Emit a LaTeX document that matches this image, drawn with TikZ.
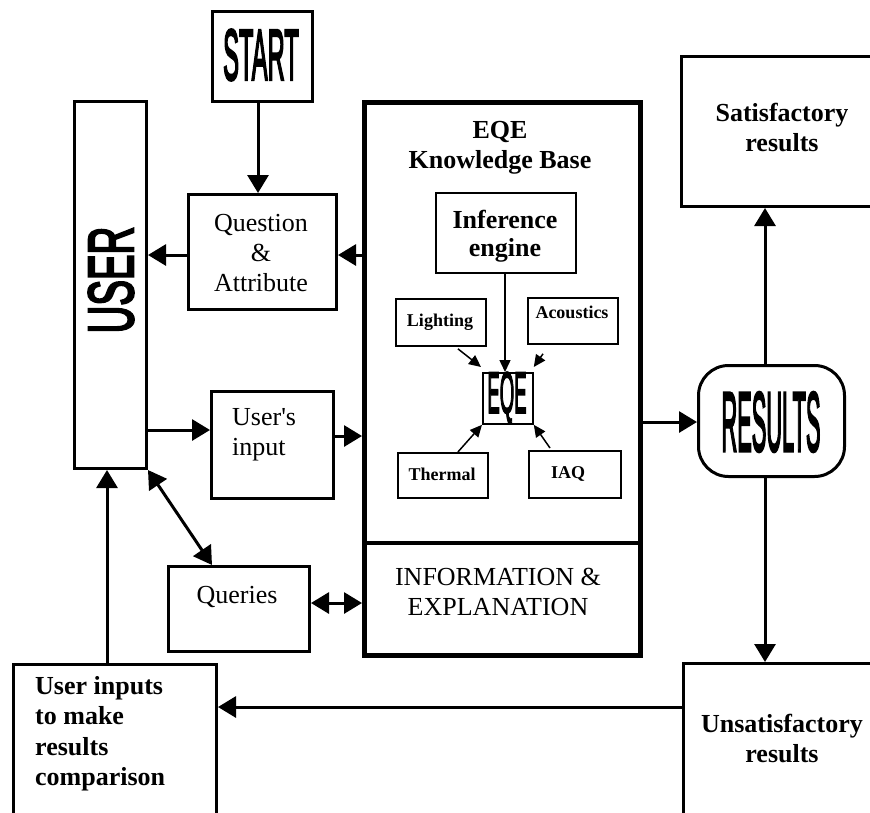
\documentclass[tikz,border=0pt]{standalone}
\usepackage{fontspec}
\setmainfont{Liberation Serif}
\newfontfamily\handfont{Liberation Sans}[FakeBold=4]
\usetikzlibrary{arrows.meta,calc}
\begin{document}
\begin{tikzpicture}[x=1pt,y=-1pt,
  box/.style={draw, line width=3pt, rectangle, inner sep=0pt, anchor=north west},
  kbbox/.style={draw, line width=4.5pt, rectangle, inner sep=0pt, anchor=north west},
  ibox/.style={draw, line width=1.8pt, rectangle, inner sep=0pt, anchor=north west},
  arr/.style={line width=3pt, -{Triangle[length=18pt,width=21pt]}},
  darr/.style={line width=3pt, {Triangle[length=18pt,width=21pt]}-{Triangle[length=18pt,width=21pt]}},
  iarr/.style={line width=1.5pt, -{Triangle[length=12pt,width=11pt]}},
  txt/.style={font=\fontsize{26}{30}\selectfont, align=center, inner sep=0pt},
  btxt/.style={font=\fontsize{26}{30}\selectfont\bfseries, align=center, inner sep=0pt},
  stxt/.style={font=\fontsize{18}{20}\selectfont\bfseries, inner sep=0pt},
  hand/.style={font=\handfont, inner sep=0pt}
]
\useasboundingbox (0,0) rectangle (870,812);

% boxes
\node[box, minimum width=100, minimum height=90] (start) at (211,10) {};
\node[hand, font=\handfont\fontsize{72}{72}\selectfont] (start-t) at (261,55) {\scalebox{0.33}[1]{START}};

\node[box, minimum width=72, minimum height=367] (user) at (73,100) {};
\node[hand, font=\handfont\fontsize{64}{64}\selectfont, rotate=90] (user-t) at (111,280) {\scalebox{0.6}[1]{USER}};

\node[box, minimum width=148, minimum height=115] (qa) at (187,193) {};
\node[txt] (qa-t) at (261,253) {Question\\\&\\Attribute};

\node[box, minimum width=122, minimum height=107] (ui) at (210,390) {};
\node[txt, align=left, anchor=west] (ui-t) at (232,435) {User\textquotesingle s\\input};

\node[box, minimum width=141, minimum height=85] (qu) at (167,565) {};
\node[txt] (qu-t) at (237,597) {Queries};

\node[kbbox, minimum width=276, minimum height=553] (kb) at (362,100) {};
\coordinate (divl) at (362,543);
\coordinate (divr) at (638,543);
\draw[line width=4pt] (divl) -- (divr);
\node[btxt] (kb-t) at (500,148) {EQE\\Knowledge Base};
\node[txt] (info-t) at (498,592) {INFORMATION \&\\EXPLANATION};

\node[ibox, minimum width=140, minimum height=80] (inf) at (435,192) {};
\node[btxt, font=\fontsize{26}{28}\selectfont\bfseries] (inf-t) at (505,236) {Inference\\engine};

\node[ibox, minimum width=90, minimum height=47] (light) at (395,298) {};
\node[stxt] (light-t) at (440,322) {Lighting};

\node[ibox, minimum width=90, minimum height=46] (acou) at (527,297) {};
\node[stxt] (acou-t) at (572,312) {Acoustics};

\node[ibox, minimum width=50, minimum height=51] (eqe) at (482,372) {};
\node[hand, font=\handfont\fontsize{58}{58}\selectfont] (eqe-t) at (507,398) {\scalebox{0.32}[1]{EQE}};

\node[ibox, minimum width=90, minimum height=45] (therm) at (397,452) {};
\node[stxt] (therm-t) at (442,474) {Thermal};

\node[ibox, minimum width=92, minimum height=47] (iaq) at (528,450) {};
\node[stxt] (iaq-t) at (568,474) {IAQ};

\node[box, minimum width=200, minimum height=150] (sat) at (680,55) {};
\node[btxt] (sat-t) at (782,127) {Satisfactory\\results};

\node[draw, line width=3pt, rounded corners=30pt, inner sep=0pt, anchor=north west, minimum width=146, minimum height=111] (res) at (697,364) {};
\node[hand, font=\handfont\fontsize{84}{84}\selectfont] (res-t) at (771,422) {\scalebox{0.26}[1]{RESULTS}};

\node[box, minimum width=200, minimum height=170] (unsat) at (682,662) {};
\node[btxt] (unsat-t) at (782,738) {Unsatisfactory\\results};

\node[box, minimum width=203, minimum height=170] (uin) at (12,663) {};
\node[btxt, align=left, anchor=north west, font=\fontsize{26}{30.5}\selectfont\bfseries] (uin-t) at (35,676) {User inputs\\to make\\results\\comparison};

% connectors
\draw[arr] (start.south -| 258,0) -- (qa.north -| 258,0);
\draw[arr] (kb.west |- 0,255) -- (qa.east |- 0,255);
\draw[arr] (qa.west |- 0,255) -- (user.east |- 0,255);
\draw[arr] (user.east |- 0,430) -- (ui.west |- 0,430);
\draw[arr] (ui.east |- 0,436) -- (kb.west |- 0,436);
\draw[darr] (user.south east) -- ($(qu.north west)+(45,0)$);
\draw[darr] (qu.east |- 0,603) -- (kb.west |- 0,603);
\draw[arr] (kb.east |- 0,422) -- (res.west |- 0,422);
\draw[arr] (res.north -| 765,0) -- (sat.south -| 765,0);
\draw[arr] (res.south -| 765,0) -- (unsat.north -| 765,0);
\draw[arr] (unsat.west |- 0,707) -- (uin.east |- 0,707);
\draw[arr] (uin.north -| 107,0) -- (user.south -| 107,0);

\draw[iarr] (inf.south -| 505,0) -- (eqe.north -| 505,0);
\draw[iarr] ($(light.south)+(17,2)$) -- ($(eqe.north west)+(-1,-5)$);
\draw[iarr] ($(acou.south west)+(16,9)$) -- ($(eqe.north east)+(0,-5)$);
\draw[iarr] ($(therm.north)+(15,0)$) -- (eqe.south west);
\draw[iarr] ($(iaq.north west)+(22,-2)$) -- (eqe.south east);
\end{tikzpicture}
\end{document}
